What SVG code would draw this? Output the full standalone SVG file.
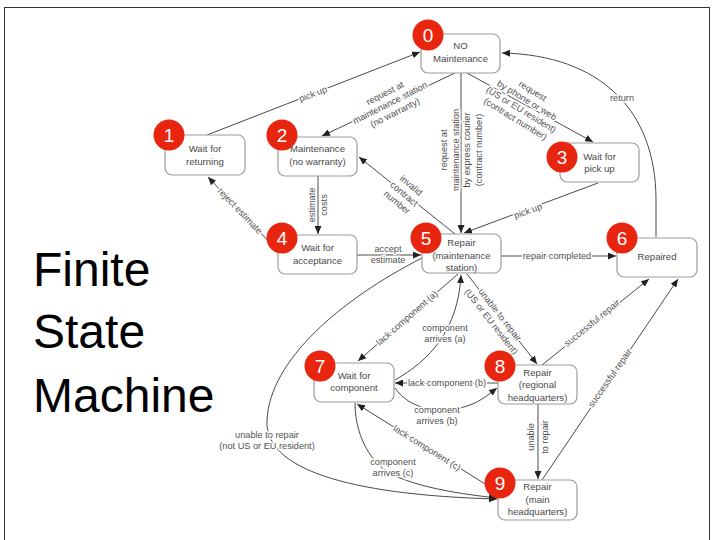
<svg xmlns="http://www.w3.org/2000/svg" width="712" height="540" viewBox="0 0 712 540">
<style>
.box{fill:#fff;stroke:#9c9c9c;stroke-width:1.2}
.nt{font-family:"Liberation Sans",Arial,sans-serif;font-size:9.6px;fill:#4a4a4a;text-anchor:middle}
.badge{fill:#e8260f}
.bn{font-family:"Liberation Sans",Arial,sans-serif;font-size:19px;fill:#fff;text-anchor:middle}
.e{fill:none;stroke:#4a4a4a;stroke-width:1}
.lb{font-family:"Liberation Sans",Arial,sans-serif;font-size:9.2px;fill:#505050;text-anchor:middle;stroke:#fff;stroke-width:3;stroke-linejoin:round;paint-order:stroke}
.title{font-family:"Liberation Sans",Arial,sans-serif;font-size:48px;fill:#000}
</style>
<defs>
<marker id="ah" markerUnits="userSpaceOnUse" markerWidth="9" markerHeight="7" refX="8" refY="3.5" orient="auto">
<path d="M0,0 L8,3.5 L0,7 z" fill="#222"/>
</marker>
</defs>
<rect x="0" y="0" width="712" height="540" fill="#fff"/>
<rect x="4.5" y="7.5" width="705" height="540" fill="none" stroke="#333" stroke-width="1"/>
<g id="title">
<text class="title" x="33" y="286">Finite</text>
<text class="title" x="33" y="348">State</text>
<text class="title" x="33" y="412">Machine</text>
</g>
<g id="connectors">
<path class="e" marker-end="url(#ah)" d="M207,135 L420,52"/>
<path class="e" marker-end="url(#ah)" d="M455,73 L322,136"/>
<path class="e" marker-end="url(#ah)" d="M461,73 L461,233"/>
<path class="e" marker-end="url(#ah)" d="M467,73 L593,142"/>
<path class="e" marker-end="url(#ah)" d="M656,237 L656,200 C656,110 600,55 502,53"/>
<path class="e" marker-end="url(#ah)" d="M598,183 L464,233"/>
<path class="e" marker-end="url(#ah)" d="M455,234 L359,157"/>
<path class="e" marker-end="url(#ah)" d="M318,176 L318,234"/>
<path class="e" marker-end="url(#ah)" d="M273,246 L208,177"/>
<path class="e" marker-end="url(#ah)" d="M357,255 L421,255"/>
<path class="e" marker-end="url(#ah)" d="M501,256 L616,256"/>
<path class="e" marker-end="url(#ah)" d="M458,274 L358,361"/>
<path class="e" marker-end="url(#ah)" d="M395,380 C430,360 458,330 461,275"/>
<path class="e" marker-end="url(#ah)" d="M467,274 L537,364"/>
<path class="e" marker-end="url(#ah)" d="M498,383 L395,383"/>
<path class="e" marker-end="url(#ah)" d="M395,388 C410,410 440,413 460,408 C478,404 488,395 497,388"/>
<path class="e" marker-end="url(#ah)" d="M542,365 L649,279"/>
<path class="e" marker-end="url(#ah)" d="M542,480 L678,279"/>
<path class="e" marker-end="url(#ah)" d="M538,404 L538,479"/>
<path class="e" marker-end="url(#ah)" d="M498,492 L357,404"/>
<path class="e" marker-end="url(#ah)" d="M355,403 C355,440 375,470 400,478 C430,490 470,495 497,498"/>
<path class="e" marker-end="url(#ah)" d="M422,258 C340,300 270,360 267,420 C264,468 345,495 497,499"/>

<text class="lb" transform="translate(313,94) rotate(-21)" y="3">pick up</text>
<text class="lb" transform="translate(390,103) rotate(-27)"><tspan x="0" y="-8">request at</tspan><tspan x="0" y="3">maintenance station</tspan><tspan x="0" y="14">(no warranty)</tspan></text>
<text class="lb" transform="translate(461,150) rotate(-90)"><tspan x="0" y="-14">request at</tspan><tspan x="0" y="-2.5">maintenance station</tspan><tspan x="0" y="9">by express courier</tspan><tspan x="0" y="20.5">(contract number)</tspan></text>
<text class="lb" transform="translate(524,105) rotate(31.5)"><tspan x="0" y="-13.5">request</tspan><tspan x="0" y="-2.5">by phone or web</tspan><tspan x="0" y="8.5">(US or EU resident)</tspan><tspan x="0" y="19.5">(contract number)</tspan></text>
<text class="lb" x="622" y="101">return</text>
<text class="lb" transform="translate(528,211) rotate(-20)" y="3">pick up</text>
<text class="lb" transform="translate(404,194) rotate(40)"><tspan x="0" y="-8">invalid</tspan><tspan x="0" y="3">contract</tspan><tspan x="0" y="14">number</tspan></text>
<text class="lb" transform="translate(318,205) rotate(-90)"><tspan x="0" y="-3">estimate</tspan><tspan x="0" y="9">costs</tspan></text>
<text class="lb" transform="translate(240,211) rotate(46)" y="3">reject estimate</text>
<text class="lb"><tspan x="388" y="252">accept</tspan><tspan x="388" y="263">estimate</tspan></text>
<text class="lb" x="557" y="259">repair completed</text>
<text class="lb" transform="translate(407,318) rotate(-41)" y="3">lack component (a)</text>
<text class="lb"><tspan x="445" y="331">component</tspan><tspan x="445" y="342">arrives (a)</tspan></text>
<text class="lb" transform="translate(496,318) rotate(52)"><tspan x="0" y="-2">unable to repair</tspan><tspan x="0" y="9">(US or EU resident)</tspan></text>
<text class="lb" x="447" y="386">lack component (b)</text>
<text class="lb"><tspan x="437" y="413">component</tspan><tspan x="437" y="424">arrives (b)</tspan></text>
<text class="lb" transform="translate(592,323) rotate(-39)" y="3">successful repair</text>
<text class="lb" transform="translate(610,378) rotate(-55)" y="3">successful repair</text>
<text class="lb" transform="translate(538,437) rotate(-90)"><tspan x="0" y="-4">unable</tspan><tspan x="0" y="10">to repair</tspan></text>
<text class="lb" transform="translate(427,448) rotate(32)" y="3">lack component (c)</text>
<text class="lb"><tspan x="393" y="465">component</tspan><tspan x="393" y="476">arrives (c)</tspan></text>
<text class="lb"><tspan x="267" y="438">unable to repair</tspan><tspan x="267" y="449">(not US or EU resident)</tspan></text>
</g>
<g id="n0">
<rect class="box" x="421" y="34" width="79" height="39" rx="7"/>
<text class="nt"><tspan x="460.5" y="49">NO</tspan><tspan x="460.5" y="62">Maintenance</tspan></text>
<circle class="badge" cx="428" cy="35" r="15.5"/><text class="bn" x="428" y="42">0</text>
</g>
<g id="n1">
<rect class="box" x="165" y="135" width="80" height="40" rx="7"/>
<text class="nt"><tspan x="205" y="151.5">Wait for</tspan><tspan x="205" y="164.5">returning</tspan></text>
<circle class="badge" cx="169" cy="135" r="15.5"/><text class="bn" x="169" y="142">1</text>
</g>
<g id="n2">
<rect class="box" x="278" y="137" width="79" height="39" rx="7"/>
<text class="nt"><tspan x="317.5" y="152">Maintenance</tspan><tspan x="317.5" y="165">(no warranty)</tspan></text>
<circle class="badge" cx="282" cy="135" r="15.5"/><text class="bn" x="282" y="142">2</text>
</g>
<g id="n3">
<rect class="box" x="560" y="143" width="79" height="39" rx="7"/>
<text class="nt"><tspan x="599.5" y="159.5">Wait for</tspan><tspan x="599.5" y="172">pick up</tspan></text>
<circle class="badge" cx="562" cy="157" r="15.5"/><text class="bn" x="562" y="164">3</text>
</g>
<g id="n4">
<rect class="box" x="278" y="235" width="79" height="39" rx="7"/>
<text class="nt"><tspan x="317.5" y="251">Wait for</tspan><tspan x="317.5" y="264">acceptance</tspan></text>
<circle class="badge" cx="282" cy="238" r="15.5"/><text class="bn" x="282" y="245">4</text>
</g>
<g id="n5">
<rect class="box" x="422" y="234" width="79" height="39" rx="7"/>
<text class="nt"><tspan x="461.5" y="246">Repair</tspan><tspan x="461.5" y="258.5">(maintenance</tspan><tspan x="461.5" y="270.5">station)</tspan></text>
<circle class="badge" cx="426" cy="238" r="15.5"/><text class="bn" x="426" y="245">5</text>
</g>
<g id="n6">
<rect class="box" x="617" y="238" width="80" height="39" rx="7"/>
<text class="nt" x="657" y="260">Repaired</text>
<circle class="badge" cx="622" cy="238" r="15.5"/><text class="bn" x="622" y="245">6</text>
</g>
<g id="n7">
<rect class="box" x="314" y="363" width="80" height="39" rx="7"/>
<text class="nt"><tspan x="354" y="379">Wait for</tspan><tspan x="354" y="391">component</tspan></text>
<circle class="badge" cx="320" cy="366" r="15.5"/><text class="bn" x="320" y="373">7</text>
</g>
<g id="n8">
<rect class="box" x="498" y="365" width="79" height="39" rx="7"/>
<text class="nt"><tspan x="537.5" y="375.5">Repair</tspan><tspan x="537.5" y="388">(regional</tspan><tspan x="537.5" y="400.5">headquarters)</tspan></text>
<circle class="badge" cx="500" cy="366" r="15.5"/><text class="bn" x="500" y="373">8</text>
</g>
<g id="n9">
<rect class="box" x="498" y="480" width="79" height="40" rx="7"/>
<text class="nt"><tspan x="537.5" y="490">Repair</tspan><tspan x="537.5" y="503">(main</tspan><tspan x="537.5" y="515">headquarters)</tspan></text>
<circle class="badge" cx="500" cy="483" r="15.5"/><text class="bn" x="500" y="490">9</text>
</g>
</svg>
